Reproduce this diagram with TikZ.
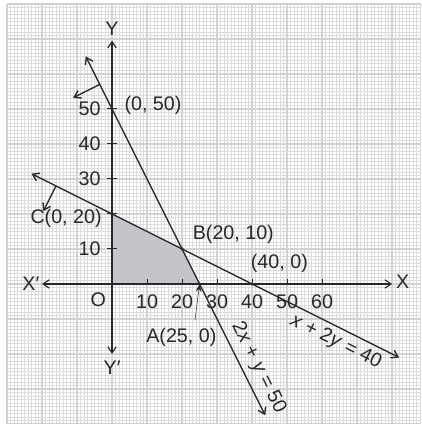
\documentclass[tikz,border=0pt]{standalone}
\usepackage{fontspec}
\setmainfont{Liberation Sans}
\usetikzlibrary{arrows.meta}
\definecolor{gridmajor}{RGB}{210,210,212}
\definecolor{gridminor}{RGB}{220,220,222}
\definecolor{region}{RGB}{196,197,201}
\definecolor{ink}{RGB}{40,40,42}
\begin{document}
\begin{tikzpicture}[x=1mm,y=1mm,
	every node/.style={text=ink,font=\fontsize{16}{19}\selectfont,inner sep=0pt},
	barb/.style={-{Straight Barb[length=1.8mm,width=2.4mm]}},
	barbs/.style={{Straight Barb[length=1.8mm,width=2.4mm]}-{Straight Barb[length=1.8mm,width=2.4mm]}},
	ln/.style={draw=ink,line width=1.1pt},
	axis/.style={draw=ink,line width=0.9pt}]
	\useasboundingbox (-32,-40) rectangle (88.3,81.1);
	\fill[white] (-32,-40) rectangle (88.3,81.1);
	% graph paper
	\draw[gridminor,line width=0.45pt] (-30,-40) grid[step=1] (88.3,80);
	\draw[gridmajor,line width=1.6pt] (-30,-40) grid[step=10] (88.3,80);
	% feasible region
	\coordinate (O) at (0,0);
	\coordinate (A) at (25,0);
	\coordinate (B) at (20,10);
	\coordinate (C) at (0,20);
	\coordinate (P) at (0,50);
	\coordinate (D) at (40,0);
	\fill[region] (O)--(A)--(B)--(C)--cycle;
	% axes
	\coordinate (xl) at (-20,0);
	\coordinate (xr) at (80,0);
	\coordinate (yt) at (0,69.5);
	\coordinate (yb) at (0,-20);
	\draw[axis,barbs] (xl)--(xr);
	\draw[axis,barbs] (yb)--(yt);
	\node (X) at (83,0.5) {X};
	\node (Xp) at (-23.2,0) {X′};
	\node (Y) at (0,72.8) {Y};
	\node (Yp) at (0,-24) {Y′};
	\node (Olab) at (-3.9,-4.4) {O};
	\foreach \x in {10,20,...,60} {
		\draw[axis] (\x,0)--(\x,1.5);
		\node (xt\x) at (\x,-5) {\x};
	}
	\foreach \y in {10,20,...,50} \draw[axis] (-1.4,\y)--(1.4,\y);
	\foreach \y in {10,30,40,50} \node[anchor=east] (yt\y) at (-3.2,\y) {\y};
	% 2x+y=50
	\coordinate (La) at (-7.5,65);
	\coordinate (Lb) at (43.75,-37.5);
	\draw[ln,barbs] (La)--(Lb);
	\coordinate (Ha) at (-3.5,57);
	\coordinate (Hb) at (-11.1,53.2);
	\draw[ln,barb] (Ha)--(Hb);
	% x+2y=40
	\coordinate (Ma) at (-23,31.5);
	\coordinate (Mb) at (82,-21);
	\draw[ln,barbs] (Ma)--(Mb);
	\coordinate (Ka) at (-16,28);
	\coordinate (Kb) at (-19.6,20.8);
	\draw[ln,barb] (Ka)--(Kb);
	% corner points
	\foreach \p in {A,B,C,P,D} \fill[ink] (\p) circle (1.4pt);
	\node[anchor=west] (Plab) at (3.5,51) {(0, 50)};
	\node[anchor=east] (Clab) at (-2.9,18.8) {C(0, 20)};
	\node[anchor=west] (Blab) at (23,14.2) {B(20, 10)};
	\node[anchor=west] (Dlab) at (39.6,5.9) {(40, 0)};
	\node (Alab) at (19.8,-15.2) {A(25, 0)};
	\coordinate (Aa) at (23.7,-10.3);
	\draw[draw=ink,line width=0.4pt,-{Stealth[length=2.2mm,width=1.6mm]}] (Aa)--(A);
	% equations
	\node[rotate=-26.57] (eqM) at (63.9,-16.6) {\textit{x} + 2\textit{y} = 40};
	\node[rotate=-63.43] (eqL) at (41.8,-24) {2\textit{x} + \textit{y} = 50};
\end{tikzpicture}
\end{document}
